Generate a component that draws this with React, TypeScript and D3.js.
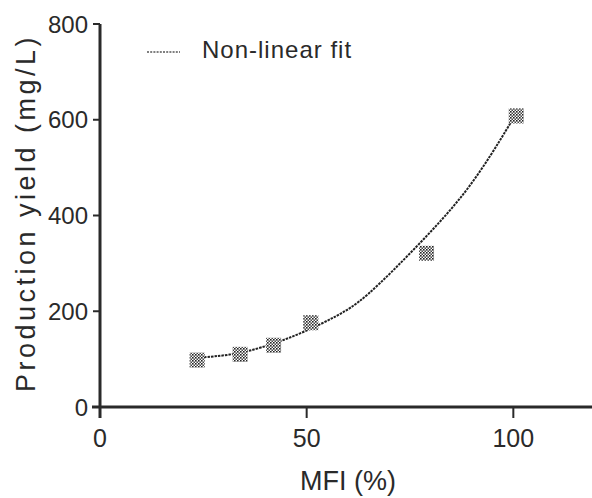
import React from 'react';
import * as d3 from 'd3';

// measured points (MFI %, yield mg/L)
const mfi = [23.5, 33.9, 42, 51, 79, 100.7];
const yieldMgL = [98, 110, 129, 176, 321, 608];

// fitted curve
const fitX = [23.5, 31.5, 38.7, 48.4, 57.4, 63.7, 77.5, 89.6, 99.8];
const fitY = [103, 108, 122, 152, 190, 222, 342, 455, 600];

const yTicks = [0, 200, 400, 600, 800];
const xTicks = [0, 50, 100];

const W = 592, H = 498;

const App = () => {
  const x = d3.scaleLinear().domain([0, 120]).range([100, 596]);
  const y = d3.scaleLinear().domain([0, 800]).range([407, 24]);

  const fitPts: [number, number][] = fitX.map((v, i) => [x(v), y(fitY[i])]);
  const line = d3.line().curve(d3.curveBasis);

  const ink = '#2a2a2a';
  const font = '"Liberation Sans", Arial, sans-serif';

  return (
    <svg width={W} height={H} style={{ position: 'absolute', left: 0, top: 0, background: '#fff' }}>
      <defs>
        <pattern id="dots" width="3" height="3" patternUnits="userSpaceOnUse">
          <rect width="3" height="3" fill="#fff" />
          <rect x="0" y="0" width="1.6" height="1.6" fill="#222" />
          <rect x="1.5" y="1.5" width="1.5" height="1.5" fill="#444" />
        </pattern>
      </defs>

      {/* axes */}
      <line x1={x(0)} x2={x(0)} y1={y(800)} y2={418} stroke={ink} strokeWidth={3} />
      <line x1={92} x2={W} y1={y(0)} y2={y(0)} stroke={ink} strokeWidth={3} />

      {yTicks.map(t => (
        <g key={'y' + t}>
          <line x1={93} x2={x(0)} y1={y(t)} y2={y(t)} stroke={ink} strokeWidth={2} />
          <text x={88} y={y(t)} dy="0.36em" textAnchor="end" fontSize={24} fontFamily={font} fill={ink}>{t}</text>
        </g>
      ))}
      {xTicks.map(t => (
        <g key={'x' + t}>
          <line x1={x(t)} x2={x(t)} y1={y(0)} y2={418} stroke={ink} strokeWidth={2} />
          <text x={x(t)} y={447} textAnchor="middle" fontSize={25} fontFamily={font} fill={ink}>{t}</text>
        </g>
      ))}

      {/* axis titles */}
      <text x={348} y={490} textAnchor="middle" fontSize={27} fontFamily={font} fill={ink}>MFI (%)</text>
      <text transform="translate(35,213) rotate(-90)" textAnchor="middle" fontSize={27} letterSpacing={3.5}
        fontFamily={font} fill={ink}>Production yield (mg/L)</text>

      {/* fit */}
      <path d={line(fitPts) || ''} fill="none" stroke="#222" strokeWidth={2} strokeDasharray="2.5,1" />

      {/* points */}
      {mfi.map((v, i) => (
        <rect key={i} x={x(v) - 7.5} y={y(yieldMgL[i]) - 7.5} width={15} height={15} fill="url(#dots)" />
      ))}

      {/* legend */}
      <line x1={147} x2={180} y1={52} y2={52} stroke="#555" strokeWidth={1.5} strokeDasharray="2,1.2" />
      <text x={202} y={58} fontSize={24} letterSpacing={1} fontFamily={font} fill={ink}>Non-linear fit</text>
    </svg>
  );
};

export default App;
